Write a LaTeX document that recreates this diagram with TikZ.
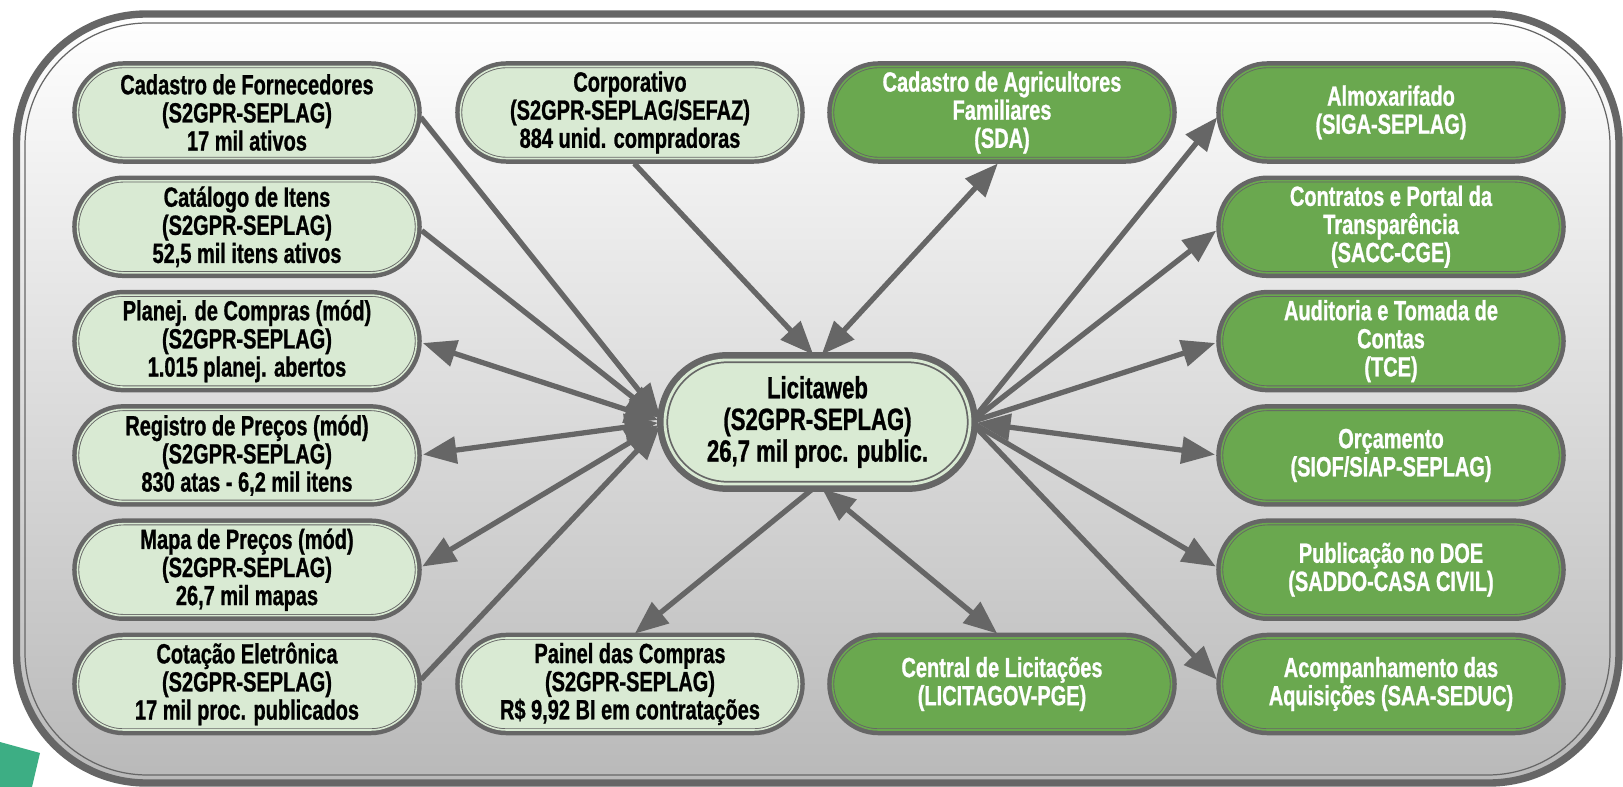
\documentclass[tikz,border=0pt]{standalone}
\usepackage{fontspec}
\setmainfont[FakeStretch=0.72,FakeBold=0.9]{Liberation Sans}
\usetikzlibrary{arrows.meta}

\definecolor{bordergray}{HTML}{666666}
\definecolor{lightfill}{HTML}{D9EAD3}
\definecolor{darkfill}{HTML}{6AA84F}
\definecolor{tealpiece}{HTML}{3DAE84}

\tikzset{
  sysbox/.style={rectangle, rounded corners=0.92cm, minimum width=6.78cm,
    minimum height=1.84cm, inner sep=1pt, align=center,
    font=\fontsize{15.8}{16}\selectfont\bfseries,
    preaction={draw=bordergray, line width=6pt},
    draw=bordergray, line width=0.5pt, double distance=0.9pt},
  lightsys/.style={sysbox, fill=lightfill, double=lightfill, text=black},
  darksys/.style={sysbox, fill=darkfill, double=darkfill, text=white},
  mainsys/.style={rectangle, rounded corners=1.24cm, minimum width=6.1cm,
    minimum height=2.48cm, inner sep=1pt, align=center,
    font=\fontsize{17.5}{18}\selectfont\bfseries,
    preaction={draw=bordergray, line width=9pt},
    draw=bordergray, line width=1pt, double distance=1.6pt,
    fill=lightfill, double=lightfill},
  link/.style={draw=bordergray, line width=3pt, shorten <=3.5pt, shorten >=3.5pt,
    -{Triangle[length=19pt,width=15pt]}},
  bilink/.style={link, {Triangle[length=19pt,width=15pt]}-{Triangle[length=19pt,width=15pt]}}
}

\begin{document}
\begin{tikzpicture}
  \useasboundingbox (0,0) rectangle (32.46,-15.74);
  \clip (0,0) rectangle (32.46,-15.74);
  \fill[white] (0,0) rectangle (32.46,-15.74);
  % corner piece behind the frame
  \fill[tealpiece] (0,-14.84) -- (0.8,-15.06) -- (0.64,-15.74) -- (0,-15.74) -- cycle;

  % frame
  \path[top color=white, bottom color=gray!55, rounded corners=2.6cm]
    (0.33,-0.28) rectangle (32.38,-15.66);
  \draw[bordergray, line width=4.2pt, rounded corners=2.6cm]
    (0.33,-0.28) rectangle (32.38,-15.66);
  \draw[bordergray, line width=0.7pt, rounded corners=2.45cm]
    (0.5,-0.46) rectangle (32.2,-15.5);

  % left column
  \node[lightsys] (fornec) at (4.94,-2.25) {Cadastro de Fornecedores\\(S2GPR-SEPLAG)\\17 mil ativos};
  \node[lightsys] (catalogo) at (4.94,-4.536) {Catálogo de Itens\\(S2GPR-SEPLAG)\\52,5 mil itens ativos};
  \node[lightsys] (planej) at (4.94,-6.822) {Planej. de Compras (mód)\\(S2GPR-SEPLAG)\\1.015 planej. abertos};
  \node[lightsys] (registro) at (4.94,-9.108) {Registro de Preços (mód)\\(S2GPR-SEPLAG)\\830 atas - 6,2 mil itens};
  \node[lightsys] (mapa) at (4.94,-11.394) {Mapa de Preços (mód)\\(S2GPR-SEPLAG)\\26,7 mil mapas};
  \node[lightsys] (cotacao) at (4.94,-13.68) {Cotação Eletrônica\\(S2GPR-SEPLAG)\\17 mil proc. publicados};

  % middle
  \node[lightsys] (corpor) at (12.6,-2.25) {Corporativo\\(S2GPR-SEPLAG/SEFAZ)\\884 unid. compradoras};
  \node[lightsys] (painel) at (12.6,-13.68) {Painel das Compras\\(S2GPR-SEPLAG)\\R\$ 9,92 BI em contratações};
  \node[darksys] (agric) at (20.04,-2.25) {Cadastro de Agricultores\\Familiares\\(SDA)};
  \node[darksys] (central) at (20.04,-13.68) {Central de Licitações\\(LICITAGOV-PGE)};
  \node[mainsys] (licita) at (16.35,-8.44) {Licitaweb\\(S2GPR-SEPLAG)\\26,7 mil proc. public.};

  % right column
  \node[darksys] (almox) at (27.82,-2.25) {Almoxarifado\\(SIGA-SEPLAG)};
  \node[darksys] (contratos) at (27.82,-4.536) {Contratos e Portal da\\Transparência\\(SACC-CGE)};
  \node[darksys] (auditoria) at (27.82,-6.822) {Auditoria e Tomada de\\Contas\\(TCE)};
  \node[darksys] (orcam) at (27.82,-9.108) {Orçamento\\(SIOF/SIAP-SEPLAG)};
  \node[darksys] (publica) at (27.82,-11.394) {Publicação no DOE\\(SADDO-CASA CIVIL)};
  \node[darksys] (acomp) at (27.82,-13.68) {Acompanhamento das\\Aquisições (SAA-SEDUC)};

  % connectors
  \draw[link] (fornec.east) -- (licita.west);
  \draw[link] (catalogo.east) -- (licita.west);
  \draw[bilink] (planej.east) -- (licita.west);
  \draw[bilink] (registro.east) -- (licita.west);
  \draw[bilink] (mapa.east) -- (licita.west);
  \draw[link] (cotacao.east) -- (licita.west);
  \draw[link] (corpor.south) -- (licita.north);
  \draw[bilink] (agric.south) -- (licita.north);
  \draw[link] (licita.south) -- (painel.north);
  \draw[bilink] (licita.south) -- (central.north);
  \draw[link] (licita.east) -- (almox.west);
  \draw[link] (licita.east) -- (contratos.west);
  \draw[link] (licita.east) -- (auditoria.west);
  \draw[bilink] (licita.east) -- (orcam.west);
  \draw[link] (licita.east) -- (publica.west);
  \draw[link] (licita.east) -- (acomp.west);
\end{tikzpicture}
\end{document}
